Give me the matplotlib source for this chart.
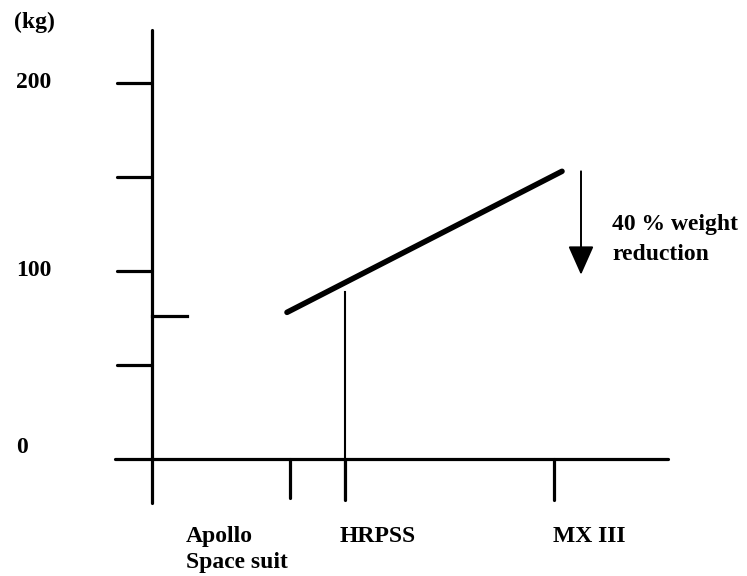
import matplotlib
matplotlib.use("Agg")
import matplotlib.pyplot as plt

# ---- data ----
categories = ["Apollo\nSpace suit", "HRPSS", "MX III"]
category_x = [0.0, 1.93, 4.02]          # tick positions on the x scale
extra_tick_x = [1.38]                   # unlabeled tick
y_ticks = [50, 100, 150, 200]
y_labels = {0: "0", 100: "100", 200: "200"}
apollo_x = [0.0, 0.35]
apollo_kg = [76, 76]
trend_x = [1.35, 4.10]
trend_kg = [78, 153]
hrpss_kg = 89
arrow_x = 4.29
arrow_kg = [153, 98]
note = ["40 % weight", "reduction"]

FONT = dict(family=["Liberation Serif", "DejaVu Serif"], fontweight="bold", fontsize=17)

fig = plt.figure(figsize=(7.47, 5.76), dpi=100)
ax = fig.add_axes([0, 0, 1, 1])
ax.set_xlim(-1.52, 5.95)
ax.set_ylim(-62.2, 244.1)
ax.axis("off")

K = "black"
AXW = 2.3
# axes
ax.plot([0, 0], [-23.4, 228], color=K, lw=AXW, solid_capstyle="round")
ax.plot([-0.37, 5.16], [0, 0], color=K, lw=AXW, solid_capstyle="round")
for v in y_ticks:
    ax.plot([-0.35, 0], [v, v], color=K, lw=AXW, solid_capstyle="round")
for v, s in y_labels.items():
    dy = 6 if v == 0 else 0
    ax.text(-1.36, v + dy, s, ha="left", va="center", **FONT)
ax.text(-1.38, 232.4, "(kg)", ha="left", va="center", **FONT)

# x ticks
ax.plot([extra_tick_x[0]] * 2, [0, -20.7], color=K, lw=AXW, solid_capstyle="round")
ax.plot([category_x[2]] * 2, [0, -22], color=K, lw=AXW, solid_capstyle="round")
# HRPSS vertical
ax.plot([category_x[1]] * 2, [-22, hrpss_kg], color=K, lw=1.5)
ax.plot([category_x[1]] * 2, [0, -22], color=K, lw=AXW, solid_capstyle="round")

# series
ax.plot(apollo_x, apollo_kg, color=K, lw=AXW)
ax.plot(trend_x, trend_kg, color=K, lw=4.0, solid_capstyle="round")

# arrow
ax.annotate("", xy=(arrow_x, arrow_kg[1]), xytext=(arrow_x, arrow_kg[0]),
            arrowprops=dict(arrowstyle="-|>,head_length=0.9,head_width=0.4",
                            mutation_scale=20, lw=1.4, color=K,
                            shrinkA=0, shrinkB=0))
ax.text(4.60, 121.8, note[0], ha="left", va="baseline", **FONT)
ax.text(4.60, 105.9, note[1], ha="left", va="baseline", **FONT)

# category labels
label_x = [0.34, 1.88, 4.01]
for lx, c in zip(label_x, categories):
    lines = c.split("\n")
    for i, ln in enumerate(lines):
        ax.text(lx, -44.1 - 14 * i, ln, ha="left", va="baseline", **FONT)

fig.savefig("out.png", dpi=100, facecolor="white")
